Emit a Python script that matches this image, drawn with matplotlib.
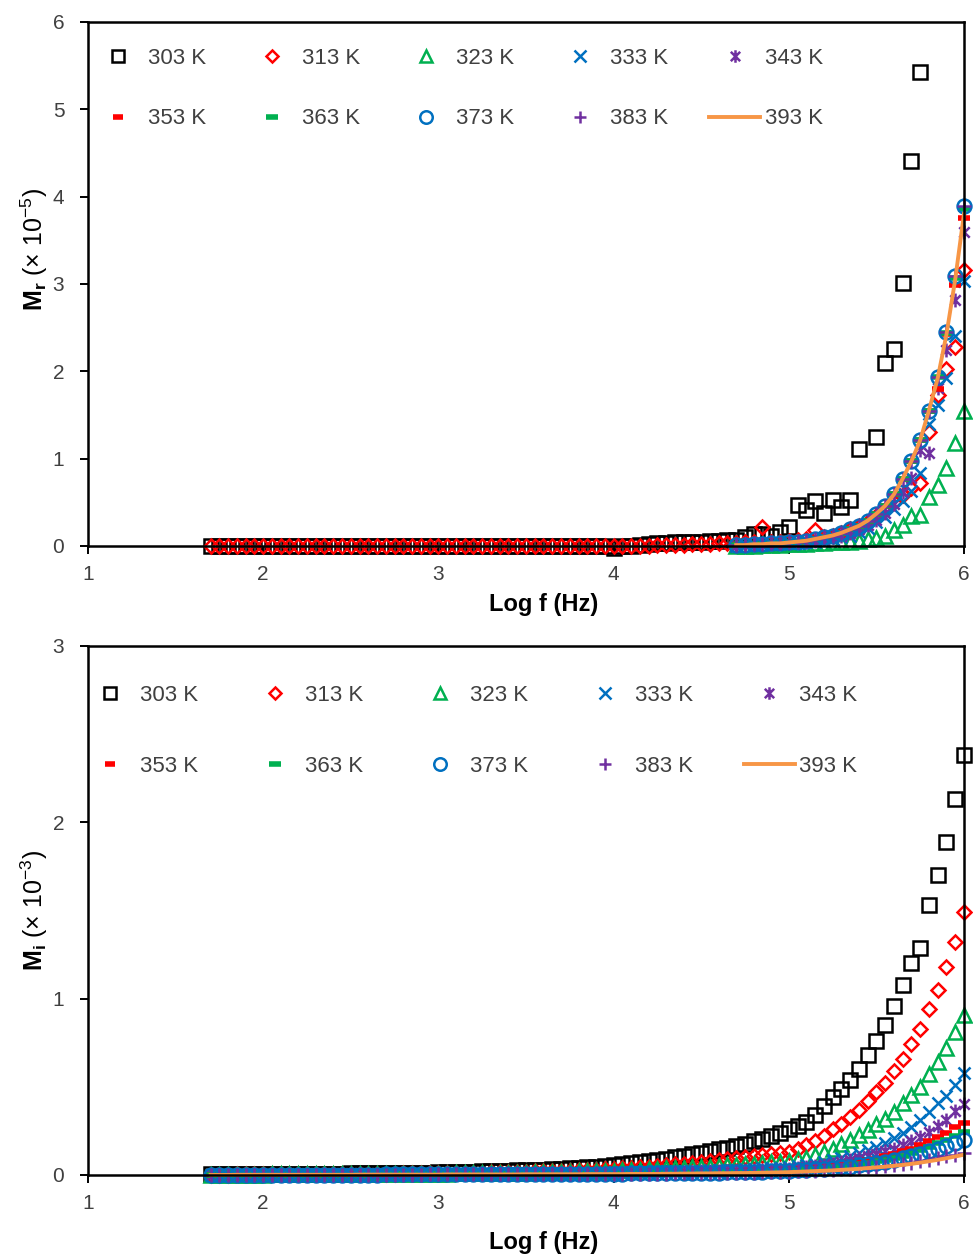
"""Electric modulus (real / imaginary) vs log frequency, 303-393 K."""
import matplotlib
matplotlib.use("Agg")
import matplotlib.pyplot as plt
import numpy as np
from matplotlib.path import Path

plt.rcParams["font.family"] = ["Liberation Sans", "DejaVu Sans"]
plt.rcParams["mathtext.fontset"] = "custom"
plt.rcParams["mathtext.rm"] = "Liberation Sans"
plt.rcParams["mathtext.it"] = "Liberation Sans:italic"
plt.rcParams["mathtext.bf"] = "Liberation Sans:bold"

temps = ["303 K", "313 K", "323 K", "333 K", "343 K",
         "353 K", "363 K", "373 K", "383 K", "393 K"]

# log f grid (Hz), full sweep
logf = [1.70, 1.75, 1.80, 1.85, 1.90, 1.95, 2.00, 2.05, 2.10, 2.15,
        2.20, 2.25, 2.30, 2.35, 2.40, 2.45, 2.50, 2.55, 2.60, 2.65,
        2.70, 2.75, 2.80, 2.85, 2.90, 2.95, 3.00, 3.05, 3.10, 3.15,
        3.20, 3.25, 3.30, 3.35, 3.40, 3.45, 3.50, 3.55, 3.60, 3.65,
        3.70, 3.75, 3.80, 3.85, 3.90, 3.95, 4.00, 4.05, 4.10, 4.15,
        4.20, 4.25, 4.30, 4.35, 4.40, 4.45, 4.50, 4.55, 4.60, 4.65,
        4.70, 4.75, 4.80, 4.85, 4.90, 4.95, 5.00, 5.05, 5.10, 5.15,
        5.20, 5.25, 5.30, 5.35, 5.40, 5.45, 5.50, 5.55, 5.60, 5.65,
        5.70, 5.75, 5.80, 5.85, 5.90, 5.95, 6.00]

# high-frequency part only (top panel, 323-393 K)
logf_hi = [4.70, 4.75, 4.80, 4.85, 4.90, 4.95, 5.00, 5.05, 5.10, 5.15,
           5.20, 5.25, 5.30, 5.35, 5.40, 5.45, 5.50, 5.55, 5.60, 5.65,
           5.70, 5.75, 5.80, 5.85, 5.90, 5.95, 6.00]

nan = np.nan

# ---- M_r (x 1e-5) ----
mr_303 = [0.00, 0.00, 0.00, 0.00, 0.00, 0.00, 0.00, 0.00, 0.00, 0.00,
          0.00, 0.00, 0.00, 0.00, 0.00, 0.00, 0.00, 0.00, 0.00, 0.00,
          0.00, 0.00, 0.00, 0.00, 0.00, 0.00, 0.00, 0.00, 0.00, 0.00,
          0.00, 0.00, 0.00, 0.00, 0.00, 0.00, 0.00, 0.00, 0.00, 0.00,
          0.00, 0.00, 0.00, 0.00, 0.00, 0.00, -0.02, 0.00, 0.00, 0.01,
          0.02, 0.03, 0.03, 0.04, 0.04, 0.05, 0.05, 0.06, 0.06, 0.07,
          0.07, 0.10, 0.14, 0.14, 0.12, 0.16, 0.22, 0.47, 0.41, 0.51,
          0.38, 0.53, 0.45, 0.53, 1.11, nan, 1.25, 2.10, 2.26, 3.01,
          4.41, 5.43, nan, nan, nan, nan, nan]
mr_313 = [0.00, 0.00, 0.00, 0.00, 0.00, 0.00, 0.00, 0.00, 0.00, 0.00,
          0.00, 0.00, 0.00, 0.00, 0.00, 0.00, 0.00, 0.00, 0.00, 0.00,
          0.00, 0.00, 0.00, 0.00, 0.00, 0.00, 0.00, 0.00, 0.00, 0.00,
          0.00, 0.00, 0.00, 0.00, 0.00, 0.00, 0.00, 0.00, 0.00, 0.00,
          0.00, 0.00, 0.00, 0.00, 0.00, 0.00, 0.00, 0.00, 0.00, 0.00,
          0.00, 0.01, 0.01, 0.01, 0.01, 0.02, 0.02, 0.02, 0.03, 0.03,
          0.03, 0.04, 0.04, 0.22, 0.05, 0.05, 0.06, 0.07, 0.08, 0.18,
          0.10, 0.12, 0.15, 0.19, 0.23, 0.28, 0.34, 0.41, 0.50, 0.58,
          0.66, 0.72, 1.31, 1.73, 2.03, 2.28, 3.16]
mr_323 = [0.00, 0.00, 0.00, 0.01, 0.01, 0.01, 0.02, 0.02, 0.02, 0.03,
          0.03, 0.04, 0.04, 0.05, 0.06, 0.08, 0.09, 0.11, 0.18, 0.24,
          0.34, 0.35, 0.56, 0.70, 0.89, 1.18, 1.54]
mr_333 = [0.00, 0.01, 0.01, 0.01, 0.02, 0.02, 0.03, 0.03, 0.04, 0.05,
          0.06, 0.08, 0.10, 0.12, 0.16, 0.21, 0.27, 0.33, 0.42, 0.52,
          0.63, 0.83, 1.40, 1.61, 1.92, 2.40, 3.03]
mr_343 = [0.00, 0.01, 0.01, 0.02, 0.02, 0.03, 0.03, 0.04, 0.05, 0.06,
          0.08, 0.10, 0.12, 0.15, 0.19, 0.24, 0.30, 0.38, 0.48, 0.62,
          0.78, 1.10, 1.07, 1.81, 2.24, 2.82, 3.59]
mr_353 = [0.01, 0.01, 0.02, 0.02, 0.03, 0.03, 0.04, 0.05, 0.06, 0.08,
          0.10, 0.12, 0.15, 0.19, 0.23, 0.29, 0.37, 0.46, 0.59, 0.77,
          0.97, 1.21, 1.55, 1.80, 2.43, 2.99, 3.76]
mr_363 = [0.01, 0.01, 0.02, 0.02, 0.03, 0.03, 0.04, 0.05, 0.06, 0.08,
          0.10, 0.12, 0.15, 0.19, 0.23, 0.29, 0.37, 0.46, 0.59, 0.77,
          0.97, 1.21, 1.55, 1.93, 2.44, 3.07, 3.86]
mr_373 = [0.01, 0.01, 0.02, 0.02, 0.03, 0.03, 0.04, 0.05, 0.06, 0.08,
          0.10, 0.12, 0.15, 0.19, 0.23, 0.29, 0.37, 0.46, 0.59, 0.77,
          0.97, 1.21, 1.55, 1.94, 2.45, 3.09, 3.89]
mr_383 = [0.01, 0.01, 0.02, 0.02, 0.03, 0.03, 0.04, 0.05, 0.06, 0.08,
          0.10, 0.12, 0.15, 0.19, 0.23, 0.29, 0.37, 0.46, 0.59, 0.77,
          0.97, 1.21, 1.55, 1.94, 2.45, 3.09, 3.89]
mr_393 = [0.01, 0.01, 0.02, 0.02, 0.03, 0.03, 0.04, 0.05, 0.06, 0.08,
          0.10, 0.12, 0.15, 0.19, 0.23, 0.29, 0.37, 0.46, 0.59, 0.77,
          0.97, 1.21, 1.55, 1.92, 2.42, 3.05, 3.80]

# ---- M_i (x 1e-3) ----
mi_303 = [0.003, 0.003, 0.004, 0.004, 0.004, 0.005, 0.005, 0.005, 0.006, 0.006,
          0.006, 0.007, 0.007, 0.008, 0.008, 0.008, 0.009, 0.009, 0.010, 0.010,
          0.011, 0.011, 0.012, 0.013, 0.013, 0.014, 0.015, 0.016, 0.017, 0.018,
          0.019, 0.020, 0.021, 0.023, 0.024, 0.026, 0.027, 0.029, 0.031, 0.033,
          0.035, 0.038, 0.041, 0.044, 0.047, 0.051, 0.055, 0.060, 0.066, 0.072,
          0.078, 0.085, 0.092, 0.100, 0.108, 0.117, 0.126, 0.135, 0.145, 0.155,
          0.165, 0.175, 0.190, 0.205, 0.220, 0.240, 0.260, 0.280, 0.300, 0.340,
          0.39, 0.44, 0.49, 0.54, 0.60, 0.68, 0.76, 0.85, 0.96, 1.08,
          1.20, 1.29, 1.53, 1.70, 1.89, 2.13, 2.38]
mi_313 = [0.002, 0.002, 0.002, 0.003, 0.003, 0.003, 0.003, 0.004, 0.004, 0.004,
          0.004, 0.005, 0.005, 0.005, 0.006, 0.006, 0.006, 0.007, 0.007, 0.007,
          0.008, 0.008, 0.009, 0.009, 0.010, 0.010, 0.011, 0.011, 0.012, 0.013,
          0.013, 0.014, 0.015, 0.016, 0.017, 0.018, 0.019, 0.020, 0.021, 0.022,
          0.024, 0.025, 0.027, 0.029, 0.031, 0.033, 0.035, 0.038, 0.041, 0.044,
          0.048, 0.052, 0.056, 0.060, 0.064, 0.069, 0.074, 0.078, 0.083, 0.088,
          0.094, 0.100, 0.106, 0.112, 0.118, 0.124, 0.130, 0.150, 0.170, 0.190,
          0.22, 0.26, 0.29, 0.33, 0.37, 0.42, 0.47, 0.52, 0.59, 0.66,
          0.74, 0.83, 0.94, 1.05, 1.18, 1.32, 1.49]
mi_323 = [0.001, 0.001, 0.002, 0.002, 0.002, 0.002, 0.002, 0.003, 0.003, 0.003,
          0.003, 0.003, 0.004, 0.004, 0.004, 0.004, 0.005, 0.005, 0.005, 0.005,
          0.006, 0.006, 0.006, 0.007, 0.007, 0.008, 0.008, 0.008, 0.009, 0.009,
          0.010, 0.010, 0.011, 0.012, 0.012, 0.013, 0.014, 0.015, 0.016, 0.017,
          0.018, 0.019, 0.020, 0.021, 0.022, 0.024, 0.025, 0.027, 0.029, 0.031,
          0.033, 0.035, 0.037, 0.039, 0.041, 0.043, 0.045, 0.048, 0.051, 0.054,
          0.057, 0.060, 0.064, 0.068, 0.072, 0.076, 0.080, 0.088, 0.097, 0.113,
          0.130, 0.150, 0.175, 0.200, 0.227, 0.255, 0.29, 0.32, 0.36, 0.41,
          0.455, 0.50, 0.57, 0.64, 0.72, 0.81, 0.91]
mi_333 = [0.001, 0.001, 0.001, 0.001, 0.002, 0.002, 0.002, 0.002, 0.002, 0.002,
          0.003, 0.003, 0.003, 0.003, 0.003, 0.003, 0.004, 0.004, 0.004, 0.004,
          0.005, 0.005, 0.005, 0.005, 0.006, 0.006, 0.006, 0.007, 0.007, 0.007,
          0.008, 0.008, 0.008, 0.009, 0.009, 0.010, 0.010, 0.011, 0.011, 0.012,
          0.012, 0.013, 0.013, 0.014, 0.014, 0.015, 0.015, 0.016, 0.017, 0.018,
          0.019, 0.020, 0.021, 0.022, 0.023, 0.024, 0.025, 0.026, 0.027, 0.029,
          0.031, 0.033, 0.035, 0.037, 0.040, 0.042, 0.045, 0.050, 0.058, 0.065,
          0.075, 0.085, 0.095, 0.110, 0.125, 0.140, 0.160, 0.180, 0.210, 0.240,
          0.270, 0.310, 0.360, 0.410, 0.450, 0.510, 0.577]
mi_343 = [0.001, 0.001, 0.001, 0.001, 0.001, 0.001, 0.002, 0.002, 0.002, 0.002,
          0.002, 0.002, 0.002, 0.003, 0.003, 0.003, 0.003, 0.003, 0.003, 0.004,
          0.004, 0.004, 0.004, 0.004, 0.005, 0.005, 0.005, 0.005, 0.006, 0.006,
          0.006, 0.006, 0.007, 0.007, 0.007, 0.008, 0.008, 0.008, 0.009, 0.009,
          0.009, 0.010, 0.010, 0.011, 0.011, 0.012, 0.012, 0.013, 0.013, 0.014,
          0.015, 0.015, 0.016, 0.017, 0.018, 0.019, 0.020, 0.021, 0.022, 0.023,
          0.024, 0.026, 0.028, 0.030, 0.031, 0.033, 0.035, 0.040, 0.045, 0.050,
          0.058, 0.065, 0.075, 0.085, 0.095, 0.105, 0.120, 0.135, 0.150, 0.170,
          0.190, 0.215, 0.245, 0.280, 0.310, 0.365, 0.400]
mi_353 = [0.001, 0.001, 0.001, 0.001, 0.001, 0.001, 0.001, 0.001, 0.002, 0.002,
          0.002, 0.002, 0.002, 0.002, 0.002, 0.002, 0.003, 0.003, 0.003, 0.003,
          0.003, 0.003, 0.004, 0.004, 0.004, 0.004, 0.004, 0.005, 0.005, 0.005,
          0.005, 0.006, 0.006, 0.006, 0.006, 0.007, 0.007, 0.007, 0.007, 0.008,
          0.008, 0.008, 0.009, 0.009, 0.009, 0.010, 0.010, 0.011, 0.011, 0.012,
          0.012, 0.013, 0.013, 0.014, 0.015, 0.016, 0.017, 0.018, 0.019, 0.020,
          0.021, 0.022, 0.024, 0.025, 0.027, 0.029, 0.031, 0.034, 0.038, 0.042,
          0.047, 0.053, 0.059, 0.066, 0.074, 0.083, 0.093, 0.105, 0.120, 0.135,
          0.150, 0.170, 0.190, 0.215, 0.240, 0.270, 0.295]
mi_363 = [0.001, 0.001, 0.001, 0.001, 0.001, 0.001, 0.001, 0.001, 0.001, 0.001,
          0.002, 0.002, 0.002, 0.002, 0.002, 0.002, 0.002, 0.002, 0.003, 0.003,
          0.003, 0.003, 0.003, 0.003, 0.004, 0.004, 0.004, 0.004, 0.004, 0.005,
          0.005, 0.005, 0.005, 0.005, 0.006, 0.006, 0.006, 0.006, 0.007, 0.007,
          0.007, 0.007, 0.008, 0.008, 0.008, 0.009, 0.009, 0.009, 0.010, 0.010,
          0.011, 0.011, 0.012, 0.012, 0.013, 0.014, 0.015, 0.016, 0.016, 0.017,
          0.018, 0.019, 0.021, 0.022, 0.023, 0.025, 0.027, 0.030, 0.033, 0.036,
          0.040, 0.045, 0.050, 0.055, 0.062, 0.069, 0.077, 0.087, 0.098, 0.110,
          0.125, 0.140, 0.160, 0.180, 0.200, 0.220, 0.245]
mi_373 = [0.001, 0.001, 0.001, 0.001, 0.001, 0.001, 0.001, 0.001, 0.001, 0.001,
          0.001, 0.001, 0.002, 0.002, 0.002, 0.002, 0.002, 0.002, 0.002, 0.002,
          0.003, 0.003, 0.003, 0.003, 0.003, 0.003, 0.003, 0.004, 0.004, 0.004,
          0.004, 0.004, 0.004, 0.005, 0.005, 0.005, 0.005, 0.005, 0.006, 0.006,
          0.006, 0.006, 0.007, 0.007, 0.007, 0.007, 0.008, 0.008, 0.009, 0.009,
          0.010, 0.010, 0.011, 0.011, 0.012, 0.012, 0.013, 0.014, 0.014, 0.015,
          0.016, 0.017, 0.018, 0.019, 0.021, 0.022, 0.024, 0.026, 0.029, 0.032,
          0.035, 0.039, 0.043, 0.048, 0.054, 0.060, 0.067, 0.075, 0.084, 0.094,
          0.105, 0.120, 0.135, 0.150, 0.165, 0.180, 0.200]
mi_383 = [0.000, 0.000, 0.001, 0.001, 0.001, 0.001, 0.001, 0.001, 0.001, 0.001,
          0.001, 0.001, 0.001, 0.001, 0.001, 0.002, 0.002, 0.002, 0.002, 0.002,
          0.002, 0.002, 0.002, 0.002, 0.002, 0.003, 0.003, 0.003, 0.003, 0.003,
          0.003, 0.003, 0.003, 0.004, 0.004, 0.004, 0.004, 0.004, 0.004, 0.004,
          0.005, 0.005, 0.005, 0.005, 0.005, 0.006, 0.006, 0.006, 0.007, 0.007,
          0.007, 0.008, 0.008, 0.009, 0.009, 0.010, 0.010, 0.011, 0.011, 0.012,
          0.013, 0.013, 0.014, 0.015, 0.016, 0.017, 0.018, 0.020, 0.022, 0.024,
          0.026, 0.029, 0.032, 0.035, 0.039, 0.043, 0.047, 0.052, 0.057, 0.063,
          0.070, 0.077, 0.085, 0.095, 0.105, 0.115, 0.127]
mi_393 = [0.000, 0.000, 0.000, 0.001, 0.001, 0.001, 0.001, 0.001, 0.001, 0.001,
          0.001, 0.001, 0.001, 0.001, 0.001, 0.001, 0.001, 0.002, 0.002, 0.002,
          0.002, 0.002, 0.002, 0.002, 0.002, 0.002, 0.002, 0.003, 0.003, 0.003,
          0.003, 0.003, 0.003, 0.003, 0.003, 0.003, 0.004, 0.004, 0.004, 0.004,
          0.004, 0.004, 0.004, 0.005, 0.005, 0.005, 0.005, 0.005, 0.006, 0.006,
          0.006, 0.006, 0.007, 0.007, 0.008, 0.008, 0.009, 0.009, 0.010, 0.010,
          0.011, 0.011, 0.012, 0.013, 0.014, 0.015, 0.016, 0.018, 0.020, 0.022,
          0.024, 0.026, 0.029, 0.032, 0.035, 0.039, 0.043, 0.047, 0.052, 0.057,
          0.063, 0.070, 0.078, 0.086, 0.095, 0.105, 0.115]

# Excel "star" marker: an x with a vertical stroke through it
star = Path([(0, -1), (0, 1), (-0.75, -0.75), (0.75, 0.75),
             (-0.75, 0.75), (0.75, -0.75)],
            [Path.MOVETO, Path.LINETO, Path.MOVETO, Path.LINETO,
             Path.MOVETO, Path.LINETO])

# marker style per temperature (Excel-like)
styles = [
    dict(marker="s", ms=10, mfc="none", mec="black", mew=1.8, ls="none"),
    dict(marker="D", ms=7.2, mfc="none", mec="#FF0000", mew=1.8, ls="none"),
    dict(marker="^", ms=10, mfc="none", mec="#00B050", mew=1.8, ls="none"),
    dict(marker="x", ms=9, mec="#0070C0", mew=1.8, ls="none"),
    dict(marker=star, ms=10, mfc="none", mec="#7030A0", mew=1.8, ls="none"),
    dict(marker="_", ms=8, mec="#FF0000", mew=4, ls="none"),
    dict(marker="_", ms=9, mec="#00B050", mew=4, ls="none"),
    dict(marker="o", ms=10, mfc="none", mec="#0070C0", mew=1.8, ls="none"),
    dict(marker="+", ms=10, mec="#7030A0", mew=1.8, ls="none"),
    dict(color="#F79646", lw=2.8),
]
TXT = "#404040"


def draw_panel(ax, xs, ys, ymax, ylabel, ylab_y, xlab_y, leg_x, leg_y,
               colsp, rowsp):
    handles = []
    for x, y, st, lab in zip(xs, ys, styles, temps):
        h, = ax.plot(x, y, label=lab, clip_on=False, **st)
        handles.append(h)
    ax.set_xlim(1, 6)
    ax.set_ylim(0, ymax)
    ax.set_xticks([1, 2, 3, 4, 5, 6])
    ax.set_yticks(range(0, ymax + 1))
    ax.tick_params(direction="out", length=6, width=1.4, labelsize=15,
                   labelcolor=TXT)
    ax.tick_params(axis="x", pad=8)
    ax.tick_params(axis="y", pad=11)
    for s in ax.spines.values():
        s.set_linewidth(1.8)
    ax.set_xlabel("Log f (Hz)", fontsize=17, fontweight="bold")
    ax.xaxis.set_label_coords(0.52, xlab_y)
    ax.set_ylabel(ylabel, fontsize=18)
    ax.yaxis.set_label_coords(-0.043, ylab_y)
    # row-wise legend order for a 5-column legend
    order = [0, 5, 1, 6, 2, 7, 3, 8, 4, 9]
    leg = ax.legend([handles[i] for i in order], [temps[i] for i in order],
                    ncol=5, loc="upper left", bbox_to_anchor=(leg_x, leg_y),
                    frameon=False, fontsize=16, handlelength=2.3,
                    handletextpad=0.2, columnspacing=colsp,
                    labelspacing=rowsp, borderpad=0, borderaxespad=0,
                    markerscale=0.9)
    for t in leg.get_texts():
        t.set_color(TXT)


fig = plt.figure(figsize=(9.73, 12.56), dpi=100)
ax1 = fig.add_axes([0.0904, 0.5653, 0.9003, 0.4172])
ax2 = fig.add_axes([0.0904, 0.0645, 0.9003, 0.4212])

xs_top = [logf, logf] + [logf_hi] * 8
ys_top = [mr_303, mr_313, mr_323, mr_333, mr_343,
          mr_353, mr_363, mr_373, mr_383, mr_393]
draw_panel(ax1, xs_top, ys_top, 6, r"$\mathbf{M_r}$ ($\times$ 10$^{-5}$)",
           0.565, -0.09, 0.005, 0.95, 1.82, 1.76)

xs_bot = [logf] * 10
ys_bot = [mi_303, mi_313, mi_323, mi_333, mi_343,
          mi_353, mi_363, mi_373, mi_383, mi_393]
draw_panel(ax2, xs_bot, ys_bot, 3, r"$\mathbf{M_i}$ ($\times$ 10$^{-3}$)",
           0.5, -0.106, -0.004, 0.926, 2.3, 2.25)

fig.savefig("out.png", dpi=100)
